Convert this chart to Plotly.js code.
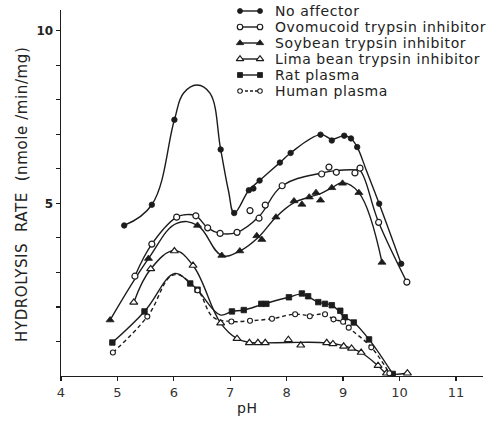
<!DOCTYPE html>
<html>
<head>
<meta charset="utf-8">
<script src="https://cdn.plot.ly/plotly-3.0.1.min.js"></script>
<style>
  html, body { margin: 0; padding: 0; background: #ffffff; }
  #chart { width: 494px; height: 423px; }
  .annotation-text { letter-spacing: 0.6px; }
</style>
</head>
<body>
<div id="chart"></div>
<script>
// ---------------- Data ----------------
const seriesNames = ["No affector", "Ovomucoid trypsin inhibitor", "Soybean trypsin inhibitor",
                     "Lima bean trypsin inhibitor", "Rat plasma", "Human plasma"];

// No affector (filled circles)
const noAffectorPH       = [5.12, 5.61, 6.01, 6.83, 7.07, 7.33, 7.41, 7.52, 7.88, 8.07, 8.60, 8.80, 9.02, 9.14, 9.25, 9.64, 10.03];
const noAffectorRate     = [4.36, 4.96, 7.42, 6.56, 4.72, 5.38, 5.43, 5.66, 6.18, 6.46, 6.99, 6.82, 6.96, 6.88, 6.63, 4.99, 3.25];
const noAffectorLinePH   = [5.12, 5.61, 6.01, 6.17, 6.41, 6.64, 6.83, 6.97, 7.07, 7.33, 7.52, 7.88, 8.07, 8.60, 8.80, 9.02, 9.14, 9.25, 9.42, 9.64, 10.03];
const noAffectorLineRate = [4.36, 4.96, 7.42, 8.19, 8.43, 8.19, 6.56, 5.35, 4.72, 5.38, 5.66, 6.18, 6.46, 6.99, 6.86, 6.96, 6.88, 6.63, 5.92, 4.99, 3.25];

// Ovomucoid trypsin inhibitor (open circles)
const ovomucoidPH       = [5.31, 5.61, 6.05, 6.39, 6.60, 6.82, 7.12, 7.35, 7.51, 7.62, 7.92, 8.62, 8.75, 8.88, 9.21, 9.30, 9.63, 10.13];
const ovomucoidRate     = [2.89, 3.82, 4.60, 4.64, 4.29, 4.13, 4.16, 4.79, 4.57, 4.95, 5.51, 5.85, 6.05, 5.90, 5.88, 6.02, 4.45, 2.72];
const ovomucoidLinePH   = [5.31, 5.61, 6.05, 6.20, 6.39, 6.60, 6.82, 7.12, 7.51, 7.92, 8.62, 8.88, 9.21, 9.30, 9.63, 10.13];
const ovomucoidLineRate = [2.89, 3.82, 4.60, 4.67, 4.64, 4.29, 4.13, 4.16, 4.62, 5.51, 5.88, 5.95, 5.97, 5.95, 4.45, 2.72];

// Soybean trypsin inhibitor (filled triangles)
const soybeanPH       = [4.87, 5.55, 6.42, 6.85, 7.17, 7.47, 7.56, 7.81, 8.13, 8.27, 8.40, 8.52, 8.60, 8.80, 8.99, 9.28, 9.69];
const soybeanRate     = [1.62, 3.40, 4.36, 3.49, 3.62, 4.06, 3.95, 4.60, 5.07, 4.97, 5.18, 5.31, 5.09, 5.45, 5.58, 5.31, 3.29];
const soybeanLinePH   = [4.87, 5.55, 6.05, 6.42, 6.85, 7.17, 7.50, 7.81, 8.13, 8.40, 8.60, 8.80, 8.99, 9.28, 9.69];
const soybeanLineRate = [1.62, 3.40, 4.42, 4.36, 3.49, 3.62, 4.02, 4.60, 5.02, 5.18, 5.28, 5.45, 5.60, 5.31, 3.29];

// Lima bean trypsin inhibitor (open triangles)
const limaPH       = [5.29, 5.59, 6.01, 6.34, 6.83, 7.12, 7.34, 7.49, 7.62, 8.03, 8.25, 8.71, 8.82, 9.01, 9.15, 9.32, 9.62, 9.77, 10.14];
const limaRate     = [2.13, 3.10, 3.62, 3.20, 1.53, 1.08, 0.96, 0.96, 0.96, 1.05, 0.89, 0.96, 0.93, 0.86, 0.80, 0.68, 0.30, 0.08, 0.08];
const limaLinePH   = [5.29, 5.59, 6.01, 6.34, 6.83, 7.12, 7.34, 7.62, 8.03, 8.71, 9.01, 9.15, 9.32, 9.62, 9.77, 10.14];
const limaLineRate = [2.13, 3.10, 3.63, 3.20, 1.53, 1.08, 0.97, 0.96, 0.97, 0.96, 0.88, 0.80, 0.68, 0.30, 0.08, 0.08];

// Rat plasma (filled squares)
const ratPH       = [4.91, 5.48, 6.29, 6.42, 7.03, 7.24, 7.55, 7.64, 8.04, 8.27, 8.38, 8.56, 8.68, 8.80, 8.95, 9.03, 9.19, 9.46, 9.88];
const ratRate     = [0.97, 1.87, 2.68, 2.50, 1.87, 1.91, 2.09, 2.09, 2.28, 2.39, 2.31, 2.14, 2.09, 2.05, 1.89, 1.70, 1.55, 1.06, 0.06];
const ratLinePH   = [4.91, 5.48, 6.02, 6.29, 6.42, 6.82, 7.03, 7.24, 7.60, 8.04, 8.27, 8.56, 8.80, 9.03, 9.19, 9.46, 9.88];
const ratLineRate = [0.97, 1.87, 2.97, 2.68, 2.50, 1.77, 1.87, 1.91, 2.09, 2.28, 2.37, 2.14, 2.05, 1.70, 1.55, 1.06, 0.06];

// Human plasma (small open circles, dashed)
const humanPH       = [4.92, 5.53, 6.42, 7.02, 7.35, 7.74, 8.15, 8.41, 8.68, 8.83, 9.00, 9.10, 9.50, 9.82];
const humanRate     = [0.68, 1.72, 2.48, 1.58, 1.60, 1.66, 1.79, 1.73, 1.79, 1.64, 1.57, 1.40, 0.83, 0.08];
const humanLinePH   = [4.92, 5.53, 6.00, 6.42, 6.70, 7.02, 7.35, 7.74, 8.15, 8.41, 8.68, 8.83, 9.00, 9.10, 9.50, 9.82];
const humanLineRate = [0.68, 1.72, 2.93, 2.48, 1.70, 1.58, 1.60, 1.66, 1.79, 1.75, 1.79, 1.64, 1.57, 1.40, 0.83, 0.08];

// Axis ticks
const xTickVals = [4, 5, 6, 7, 8, 9, 10, 11];
const xTickText = ["4", "5", "6", "7", "8", "9", "10", "11"];
const yTickVals = [1, 2, 3, 4, 5, 6, 7, 8, 9, 10];
const yTickText = ["", "", "", "", "5", "", "", "", "", "10"];

// ---------------- Styles ----------------
const INK = "#1c1c1c";
const FONT = "DejaVu Sans";
const markerStyles = [
  { symbol: "circle", size: 5.5, color: INK, line: { color: INK, width: 0.8 } },
  { symbol: "circle", size: 6, color: "#ffffff", line: { color: INK, width: 1.2 } },
  { symbol: "triangle-up", size: 7, color: INK, line: { color: INK, width: 0.8 } },
  { symbol: "triangle-up", size: 7, color: "#ffffff", line: { color: INK, width: 1.2 } },
  { symbol: "square", size: 5.5, color: INK, line: { color: INK, width: 0.8 } },
  { symbol: "circle", size: 5, color: "#ffffff", line: { color: INK, width: 1.1 } }
];
const lineDash = ["solid", "solid", "solid", "solid", "solid", "4px,3px"];

const markerData = [
  [noAffectorPH, noAffectorRate], [ovomucoidPH, ovomucoidRate], [soybeanPH, soybeanRate],
  [limaPH, limaRate], [ratPH, ratRate], [humanPH, humanRate]
];
const lineData = [
  [noAffectorLinePH, noAffectorLineRate], [ovomucoidLinePH, ovomucoidLineRate], [soybeanLinePH, soybeanLineRate],
  [limaLinePH, limaLineRate], [ratLinePH, ratLineRate], [humanLinePH, humanLineRate]
];

const traces = [];
lineData.forEach((d, i) => {
  traces.push({
    x: d[0], y: d[1], type: "scatter", mode: "lines", showlegend: false, hoverinfo: "skip",
    line: { shape: "spline", smoothing: 1.15, color: INK, width: 1.4, dash: lineDash[i] }
  });
});
markerData.forEach((d, i) => {
  traces.push({
    x: d[0], y: d[1], type: "scatter", mode: "markers", name: seriesNames[i], showlegend: false,
    marker: markerStyles[i]
  });
});

// Legend drawn on a pixel-scaled overlay axis pair
const annotations = [];
seriesNames.forEach((name, i) => {
  const rowY = 11 + 16 * i;
  traces.push({
    x: [240, 260], y: [rowY, rowY], xaxis: "x2", yaxis: "y2", type: "scatter",
    mode: "lines+markers", showlegend: false, hoverinfo: "skip", cliponaxis: false,
    line: { color: INK, width: 1.4, dash: i === 5 ? "3px,2px" : "solid" },
    marker: Object.assign({}, markerStyles[i], { size: markerStyles[i].size - 0.5 })
  });
  annotations.push({
    xref: "x2", yref: "y2", x: 273, y: rowY, xanchor: "left", yanchor: "middle",
    text: name, showarrow: false, font: { family: FONT, size: 14, color: "#222" }
  });
});

// Axis titles
annotations.push({
  xref: "paper", yref: "paper", x: (22 - 61) / 422, y: (376 - 195) / 366,
  text: "HYDROLYSIS\u00A0\u00A0RATE\u00A0\u00A0(nmole\u00A0/min/mg)", textangle: -90, showarrow: false,
  xanchor: "center", yanchor: "middle", font: { family: FONT, size: 15, color: "#222" }
});
annotations.push({
  xref: "paper", yref: "paper", x: (247 - 61) / 422, y: -(408 - 376) / 366,
  text: "pH", showarrow: false, xanchor: "center", yanchor: "middle",
  font: { family: FONT, size: 14, color: "#222" }
});

const layout = {
  width: 494, height: 423,
  margin: { l: 61, r: 11, t: 10, b: 47 },
  paper_bgcolor: "#ffffff", plot_bgcolor: "#ffffff",
  showlegend: false,
  font: { family: FONT, color: "#222" },
  xaxis: {
    range: [4, 11.48], autorange: false, tickmode: "array", tickvals: xTickVals, ticktext: xTickText,
    ticks: "outside", ticklen: 4, tickwidth: 1.2, tickcolor: INK,
    showline: true, linecolor: INK, linewidth: 1.4, showgrid: false, zeroline: false,
    tickfont: { family: FONT, size: 13, color: "#333" }
  },
  yaxis: {
    range: [0, 10.6], autorange: false, tickmode: "array", tickvals: yTickVals, ticktext: yTickText,
    ticks: "outside", ticklen: 4, tickwidth: 1.2, tickcolor: INK,
    showline: true, linecolor: INK, linewidth: 1.4, showgrid: false, zeroline: false,
    tickfont: { family: FONT, size: 12, color: "#222", weight: "bold" }
  },
  xaxis2: { overlaying: "x", anchor: "y2", range: [61, 483], autorange: false, visible: false },
  yaxis2: { overlaying: "y", anchor: "x2", range: [376, 10], autorange: false, visible: false },
  annotations: annotations
};

Plotly.newPlot("chart", traces, layout, { displayModeBar: false, staticPlot: true });
</script>
</body>
</html>
